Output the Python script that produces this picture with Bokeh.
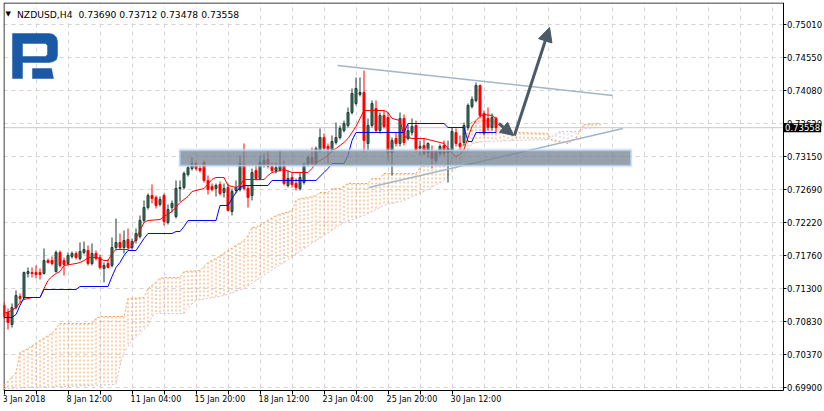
import numpy as np
from bokeh.plotting import figure
from bokeh.models import (FixedTicker, Range1d, Label, Span, BoxAnnotation, Arrow,
                          NormalHead, ColumnDataSource, NumeralTickFormatter,
                          CustomJSTickFormatter)
from bokeh.embed import file_html
from bokeh.resources import INLINE

# ---------------- data ----------------
symbol = "NZDUSD,H4"
header_ohlc = ["0.73690", "0.73712", "0.73478", "0.73558"]

opens = [0.71055, 0.70956, 0.70787, 0.71026, 0.71181, 0.71167, 0.71505, 0.71519, 0.71519, 0.71519,
         0.71505, 0.71688, 0.71688, 0.71533, 0.71801, 0.71688, 0.71646, 0.71745, 0.71787, 0.71716,
         0.71801, 0.71829, 0.71646, 0.71787, 0.71730, 0.71576, 0.71646, 0.71618, 0.71871, 0.71942,
         0.71871, 0.71984, 0.71871, 0.71970, 0.72026, 0.72251, 0.72434, 0.72603, 0.72575, 0.72477,
         0.72603, 0.72223, 0.72434, 0.72308, 0.72702, 0.72716, 0.72899, 0.72984, 0.73054, 0.72984,
         0.73068, 0.72815, 0.72730, 0.72702, 0.72758, 0.72646, 0.72716, 0.72378, 0.72674, 0.72688,
         0.73040, 0.72702, 0.72603, 0.72955, 0.72843, 0.73026, 0.73110, 0.73012, 0.72955, 0.72969,
         0.73026, 0.72744, 0.72857, 0.72772, 0.72702, 0.72786, 0.73040, 0.73138, 0.73054, 0.73237,
         0.73420, 0.73293, 0.73251, 0.73350, 0.73420, 0.73519, 0.73589, 0.73772, 0.73899, 0.74026,
         0.74054, 0.73336, 0.73589, 0.73828, 0.73519, 0.73730, 0.73702, 0.73209, 0.73406, 0.73336,
         0.73688, 0.73406, 0.73491, 0.73589, 0.73265, 0.73308, 0.73209, 0.73237, 0.73096, 0.73195,
         0.73308, 0.73209, 0.73237, 0.73491, 0.73336, 0.73350, 0.73561, 0.73856, 0.73941, 0.74152,
         0.73758, 0.73688, 0.73561, 0.73690]
highs = [0.71097, 0.71012, 0.71083, 0.71266, 0.71224, 0.71533, 0.71590, 0.71590, 0.71618, 0.71576,
         0.71857, 0.71716, 0.71745, 0.71829, 0.71829, 0.71730, 0.71801, 0.71815, 0.71815, 0.71942,
         0.71956, 0.71899, 0.71928, 0.71829, 0.71773, 0.71660, 0.71702, 0.72012, 0.72280, 0.72068,
         0.72111, 0.72139, 0.71998, 0.72139, 0.72322, 0.72533, 0.72632, 0.72758, 0.72603, 0.72589,
         0.72632, 0.72477, 0.72533, 0.72815, 0.72815, 0.72941, 0.73026, 0.73138, 0.73082, 0.73026,
         0.73096, 0.72885, 0.72772, 0.72772, 0.72800, 0.72772, 0.72772, 0.72702, 0.72815, 0.73167,
         0.73336, 0.72744, 0.72984, 0.73026, 0.73167, 0.73195, 0.73237, 0.73068, 0.73068, 0.73237,
         0.73096, 0.72955, 0.72927, 0.72843, 0.72927, 0.73068, 0.73167, 0.73279, 0.73293, 0.73547,
         0.73477, 0.73336, 0.73448, 0.73631, 0.73589, 0.73659, 0.73842, 0.74110, 0.74265, 0.74265,
         0.74363, 0.73688, 0.73941, 0.73941, 0.73772, 0.73800, 0.73772, 0.73420, 0.73491, 0.73772,
         0.73744, 0.73603, 0.73688, 0.73659, 0.73378, 0.73406, 0.73350, 0.73308, 0.73237, 0.73322,
         0.73378, 0.73378, 0.73561, 0.73547, 0.73448, 0.73631, 0.73899, 0.73998, 0.74194, 0.74166,
         0.73800, 0.73842, 0.73758, 0.73712]
lows = [0.70872, 0.70717, 0.70745, 0.70998, 0.71097, 0.71139, 0.71449, 0.71449, 0.71435, 0.71421,
        0.71491, 0.71646, 0.71618, 0.71519, 0.71590, 0.71477, 0.71618, 0.71716, 0.71702, 0.71688,
        0.71773, 0.71618, 0.71618, 0.71688, 0.71561, 0.71378, 0.71576, 0.71590, 0.71829, 0.71843,
        0.71787, 0.71843, 0.71843, 0.71928, 0.71998, 0.72223, 0.72406, 0.72491, 0.72420, 0.72449,
        0.72181, 0.72195, 0.72364, 0.72280, 0.72519, 0.72688, 0.72871, 0.72955, 0.72955, 0.72927,
        0.72786, 0.72618, 0.72660, 0.72589, 0.72603, 0.72575, 0.72378, 0.72322, 0.72632, 0.72660,
        0.72674, 0.72434, 0.72533, 0.72815, 0.72815, 0.72998, 0.72984, 0.72927, 0.72913, 0.72941,
        0.72744, 0.72716, 0.72716, 0.72674, 0.72674, 0.72758, 0.73012, 0.73026, 0.73026, 0.73209,
        0.73237, 0.73054, 0.73209, 0.73322, 0.73392, 0.73491, 0.73561, 0.73744, 0.73871, 0.73998,
        0.73209, 0.73237, 0.73561, 0.73491, 0.73477, 0.73547, 0.73096, 0.72885, 0.73293, 0.73293,
        0.73308, 0.73378, 0.73448, 0.73209, 0.73167, 0.73167, 0.73138, 0.72984, 0.73054, 0.73153,
        0.73153, 0.72786, 0.73209, 0.73293, 0.73237, 0.73308, 0.73533, 0.73828, 0.73913, 0.73688,
        0.73448, 0.73519, 0.73519, 0.73478]
closes = [0.70900, 0.70815, 0.71026, 0.71195, 0.71153, 0.71519, 0.71533, 0.71505, 0.71491, 0.71491,
          0.71688, 0.71660, 0.71646, 0.71801, 0.71618, 0.71632, 0.71759, 0.71787, 0.71730, 0.71815,
          0.71843, 0.71646, 0.71787, 0.71716, 0.71590, 0.71618, 0.71590, 0.71871, 0.71942, 0.71871,
          0.71970, 0.71871, 0.71956, 0.72068, 0.72251, 0.72434, 0.72603, 0.72561, 0.72463, 0.72547,
          0.72237, 0.72406, 0.72491, 0.72702, 0.72716, 0.72913, 0.72998, 0.73054, 0.72984, 0.72955,
          0.72815, 0.72688, 0.72688, 0.72744, 0.72632, 0.72702, 0.72392, 0.72660, 0.72716, 0.73054,
          0.72702, 0.72575, 0.72927, 0.72843, 0.73068, 0.73096, 0.73012, 0.72955, 0.72998, 0.73040,
          0.72772, 0.72843, 0.72758, 0.72716, 0.72857, 0.73040, 0.73138, 0.73054, 0.73265, 0.73420,
          0.73265, 0.73251, 0.73364, 0.73420, 0.73547, 0.73617, 0.73772, 0.74040, 0.74110, 0.74054,
          0.73378, 0.73589, 0.73899, 0.73519, 0.73730, 0.73575, 0.73209, 0.73378, 0.73336, 0.73688,
          0.73350, 0.73519, 0.73575, 0.73237, 0.73293, 0.73195, 0.73336, 0.73124, 0.73223, 0.73293,
          0.73195, 0.73265, 0.73505, 0.73336, 0.73293, 0.73589, 0.73871, 0.73955, 0.74152, 0.73730,
          0.73477, 0.73561, 0.73702, 0.73558]

# Ichimoku lines (vertices: bar index, price)
tenkan_bar = [0, 2, 3, 4, 5, 7, 9, 10, 11, 12, 13, 14, 15, 18, 19, 20, 21, 23, 24, 25, 26, 27, 28, 31,
              32, 33, 34, 35, 36, 39, 40, 42, 44, 46, 47, 50, 52, 53, 55, 56, 58, 59, 60, 65, 66, 67,
              70, 72, 76, 77, 78, 79, 80, 81, 82, 83, 84, 85, 86, 87, 88, 89, 90, 95, 96, 97, 99, 100,
              102, 105, 107, 109, 110, 111, 112, 113, 114, 115, 116, 117, 118, 119, 120, 122, 123]
tenkan_val = [0.70942, 0.70984, 0.71026, 0.71097, 0.71139, 0.71167, 0.71167, 0.71294, 0.71407, 0.71463,
              0.71505, 0.71533, 0.71618, 0.71646, 0.71660, 0.71688, 0.71730, 0.71730, 0.71716, 0.71688,
              0.71688, 0.71787, 0.71843, 0.71843, 0.71899, 0.71998, 0.72111, 0.72223, 0.72251, 0.72265,
              0.72308, 0.72378, 0.72505, 0.72589, 0.72660, 0.72702, 0.72829, 0.72857, 0.72857, 0.72744,
              0.72716, 0.72744, 0.72829, 0.72829, 0.72885, 0.72927, 0.72969, 0.72927, 0.72927, 0.72984,
              0.73068, 0.73096, 0.73124, 0.73167, 0.73237, 0.73265, 0.73308, 0.73350, 0.73406, 0.73491,
              0.73575, 0.73688, 0.73800, 0.73800, 0.73772, 0.73688, 0.73659, 0.73434, 0.73406, 0.73406,
              0.73378, 0.73350, 0.73336, 0.73265, 0.73195, 0.73153, 0.73181, 0.73251, 0.73420, 0.73575,
              0.73659, 0.73716, 0.73744, 0.73730, 0.73688]
kijun_bar = [0, 2, 3, 4, 5, 9, 10, 18, 19, 26, 27, 28, 29, 30, 31, 33, 34, 35, 36, 42, 43, 44, 45, 46,
             53, 54, 56, 57, 58, 59, 60, 66, 67, 78, 79, 80, 81, 82, 85, 86, 87, 88, 100, 101, 110, 111,
             115, 116, 117, 118, 123]
kijun_val = [0.70886, 0.70886, 0.70928, 0.71055, 0.71167, 0.71167, 0.71280, 0.71280, 0.71322, 0.71322,
             0.71463, 0.71590, 0.71660, 0.71759, 0.71829, 0.71829, 0.71913, 0.71998, 0.72068, 0.72068,
             0.72096, 0.72096, 0.72167, 0.72251, 0.72251, 0.72463, 0.72463, 0.72561, 0.72646, 0.72716,
             0.72744, 0.72744, 0.72815, 0.72815, 0.72871, 0.72927, 0.72984, 0.73054, 0.73054, 0.73167,
             0.73378, 0.73491, 0.73491, 0.73617, 0.73617, 0.73561, 0.73561, 0.73364, 0.73364, 0.73491,
             0.73491]
span_a_bar = [0, 3, 4, 6, 9, 12, 14, 22, 23, 24, 30, 31, 35, 36, 37, 39, 40, 44, 45, 49, 51, 53, 56, 58,
              60, 61, 62, 63, 68, 72, 73, 74, 76, 78, 79, 81, 82, 84, 86, 91, 92, 94, 95, 103, 104, 105,
              111, 112, 114, 115, 116, 117, 120, 123, 125, 128, 136, 137, 141, 143, 144, 145, 149]
span_a_val = [0.69928, 0.70111, 0.70393, 0.70449, 0.70562, 0.70661, 0.70801, 0.70801, 0.70872, 0.70900,
              0.70900, 0.71153, 0.71167, 0.71294, 0.71336, 0.71435, 0.71449, 0.71449, 0.71533, 0.71547,
              0.71660, 0.71716, 0.71829, 0.71899, 0.71970, 0.72040, 0.72153, 0.72153, 0.72322, 0.72392,
              0.72533, 0.72561, 0.72575, 0.72603, 0.72646, 0.72646, 0.72702, 0.72702, 0.72772, 0.72772,
              0.72843, 0.72843, 0.72913, 0.72913, 0.72998, 0.73026, 0.73026, 0.73138, 0.73138, 0.73378,
              0.73547, 0.73645, 0.73659, 0.73645, 0.73561, 0.73491, 0.73477, 0.73378, 0.73336, 0.73406,
              0.73519, 0.73603, 0.73617]
span_b_bar = [0, 28, 29, 30, 32, 33, 36, 37, 38, 45, 46, 48, 55, 60, 66, 70, 75, 80, 85, 90, 95, 100,
              104, 110, 113, 116, 117, 120, 136, 137, 139, 144, 145, 149]
span_b_val = [0.69886, 0.69942, 0.70210, 0.70393, 0.70562, 0.70604, 0.70773, 0.70900, 0.70942, 0.70942,
              0.71026, 0.71125, 0.71195, 0.71294, 0.71519, 0.71660, 0.71857, 0.72040, 0.72223, 0.72322,
              0.72463, 0.72533, 0.72632, 0.72815, 0.72984, 0.73237, 0.73336, 0.73364, 0.73392, 0.73434,
              0.73505, 0.73505, 0.73547, 0.73561]

# axes
time_tick_bars = [0, 16, 32, 48, 64, 80, 96, 112]
time_tick_labels = ["3 Jan 2018", "8 Jan 12:00", "11 Jan 04:00", "15 Jan 20:00",
                    "18 Jan 12:00", "23 Jan 04:00", "25 Jan 20:00", "30 Jan 12:00"]
price_ticks = [0.69900, 0.70370, 0.70830, 0.71300, 0.71760, 0.72220,
               0.72690, 0.73150, 0.73620, 0.74080, 0.74550, 0.75010]
current_price = 0.73558

# drawn analysis objects
resistance_bars = [83.4, 152.2]
resistance_prices = [0.74434, 0.74011]
support_bars = [91.2, 154.7]
support_prices = [0.72716, 0.73547]
zone_bars = [44.0, 156.7]
zone_prices = [0.73026, 0.73237]
arrow1_bars = [123.7, 127.4]
arrow1_prices = [0.73617, 0.73448]
arrow2_bars = [127.6, 136.4]
arrow2_prices = [0.73448, 0.74969]

# ---------------- layout ----------------
# The plotting frame covers the whole canvas; both scales are real axes pinned
# (fixed_location) at the chart's right and bottom edges, MetaTrader style.
W, H = 824, 411
FL, FT, FR, FB = 3, 2, 824, 411
AXIS_X_PX = 782.5      # price scale line
AXIS_Y_PX = 389.5      # time scale line
PX_PER_BAR = 4.0
PRICE_PER_PX = 0.05449 / 387.0
X0 = -0.125
X1 = X0 + (FR - FL) / PX_PER_BAR
Y1 = 0.753208
Y0 = Y1 - (FB - FT) * PRICE_PER_PX


def px_x(px):
    return X0 + (px - FL) * (X1 - X0) / (FR - FL)


def px_y(py):
    return Y1 - (py - FT) * (Y1 - Y0) / (FB - FT)


X_AXIS = px_x(AXIS_X_PX)
Y_AXIS = px_y(AXIS_Y_PX)

p = figure(width=W, height=H, x_range=Range1d(X0, X1), y_range=Range1d(Y0, Y1),
           y_axis_location="right", toolbar_location=None, output_backend="svg",
           min_border_left=FL, min_border_top=FT, min_border_right=0,
           min_border_bottom=0)
p.background_fill_color = "white"
p.border_fill_color = "white"
p.outline_line_color = None

# grid
p.xgrid.ticker = FixedTicker(ticks=list(range(8, 193, 8)))
p.ygrid.ticker = FixedTicker(ticks=price_ticks)
for g in (p.xgrid, p.ygrid):
    g.grid_line_color = "#D3D3D3"
    g.grid_line_dash = "4 4"
    g.grid_line_width = 1

# current price line (behind candles)
p.add_layout(Span(location=current_price, dimension="width", line_color="#C8C8C8",
                  line_width=1, level="underlay"))
# blank scale strips right of and below the chart
p.add_layout(BoxAnnotation(left=X_AXIS, fill_color="white", fill_alpha=1.0,
                           line_alpha=0, level="underlay"))
p.add_layout(BoxAnnotation(top=Y_AXIS, fill_color="white", fill_alpha=1.0,
                           line_alpha=0, level="underlay"))

# ---- time axis: labels start at their tick ----
FONT_PX = 8.0
DEJAVU_EM = {" ": 0.318, "J": 0.295, "a": 0.613, "n": 0.634, ":": 0.337}


def text_px(s):
    return sum(DEJAVU_EM.get(ch, 0.636) for ch in s) * FONT_PX


label_centres = [b - 0.35 + text_px(t) / 2.0 / PX_PER_BAR
                 for b, t in zip(time_tick_bars, time_tick_labels)]
xa = p.xaxis[0]
xa.fixed_location = Y_AXIS
xa.bounds = (X0, X_AXIS)
xa.ticker = FixedTicker(ticks=label_centres, minor_ticks=list(range(0, 113, 8)))
xa.formatter = CustomJSTickFormatter(args=dict(labels=time_tick_labels),
                                     code="return labels[index];")
xa.major_label_text_font = "DejaVu Sans"
xa.major_label_text_font_size = "8px"
xa.major_label_text_color = "black"
xa.major_label_standoff = 1
xa.major_tick_out = 4
xa.major_tick_in = 0
xa.major_tick_line_color = None
xa.minor_tick_out = 4
xa.minor_tick_in = 0
xa.minor_tick_line_color = "black"
xa.axis_line_color = "black"

ya = p.yaxis[0]
ya.fixed_location = X_AXIS
ya.bounds = (Y_AXIS, Y1)
ya.ticker = FixedTicker(ticks=price_ticks, minor_ticks=[])
ya.formatter = NumeralTickFormatter(format="0.00000")
ya.major_label_text_font = "DejaVu Sans"
ya.major_label_text_font_size = "8.5px"
ya.major_label_text_color = "black"
ya.major_label_standoff = 1
ya.major_tick_out = 3
ya.major_tick_in = 0
ya.minor_tick_out = 0
ya.minor_tick_in = 0
ya.axis_line_color = "black"
ya.major_tick_line_color = "black"

# chart border (left and top)
p.line([px_x(3.5), px_x(3.5)], [Y_AXIS, px_y(2.5)], line_color="black", line_width=1)
p.line([px_x(3.5), X_AXIS], [px_y(2.5), px_y(2.5)], line_color="black", line_width=1)

# ---------------- Ichimoku cloud: dotted vertical hatch at every bar ----------------
cloud_bars = np.arange(0, max(span_a_bar[-1], span_b_bar[-1]) + 1)
ca = np.interp(cloud_bars, span_a_bar, span_a_val)
cb = np.interp(cloud_bars, span_b_bar, span_b_val)
p.segment(x0=cloud_bars, y0=ca, x1=cloud_bars, y1=np.maximum(cb, Y_AXIS),
          line_color=np.where(ca >= cb, "#F4A460", "#D8BFD8").tolist(),
          line_width=1, line_dash="2 2")
p.line(span_a_bar, span_a_val, line_color="#F4A460", line_width=1, line_dash="2 2")
p.line(span_b_bar, span_b_val, line_color="#D8BFD8", line_width=1, line_dash="2 2")

# ---------------- candles ----------------
idx = np.arange(len(opens))
o, h, l, c = map(np.array, (opens, highs, lows, closes))
bull = c >= o
src = ColumnDataSource(dict(
    x=idx, o=o, h=h, l=l, c=c,
    top=np.maximum(o, c), bottom=np.minimum(o, c),
    fill=np.where(bull, "#3C7D60", "#FF0000"),
    edge=np.where(bull, "#1F3B35", "#FF0000"),
))
p.segment(x0="x", y0="l", x1="x", y1="h", line_color="edge", line_width=1, source=src)
p.vbar(x="x", width=0.5, top="top", bottom="bottom", fill_color="fill", line_color="edge",
       line_width=1, source=src)

# Tenkan / Kijun
p.line(tenkan_bar, tenkan_val, line_color="#FF0000", line_width=1)
p.line(kijun_bar, kijun_val, line_color="#0000FF", line_width=1)

# ---------------- analysis objects ----------------
p.line(resistance_bars, resistance_prices, line_color="#A2B6C6", line_width=1.5)
p.line(support_bars, support_prices, line_color="#A2B6C6", line_width=1.5)
p.add_layout(BoxAnnotation(left=zone_bars[0] - 0.4, right=zone_bars[1] + 0.4,
                           bottom=zone_prices[0] - 0.0003, top=zone_prices[1] + 0.0003,
                           fill_color="#B9D3F0", fill_alpha=0.35, line_alpha=0))
p.add_layout(BoxAnnotation(left=zone_bars[0], right=zone_bars[1], bottom=zone_prices[0],
                           top=zone_prices[1], fill_color="#6C7884", fill_alpha=0.66,
                           line_color="#B3CCEA", line_width=1.5, line_alpha=0.9))
ac = "#4B5A67"
p.add_layout(Arrow(end=NormalHead(size=13, fill_color=ac, line_color=ac),
                   x_start=arrow1_bars[0], y_start=arrow1_prices[0],
                   x_end=arrow1_bars[1], y_end=arrow1_prices[1],
                   line_color=ac, line_width=3))
p.add_layout(Arrow(end=NormalHead(size=14, fill_color=ac, line_color=ac),
                   x_start=arrow2_bars[0], y_start=arrow2_prices[0],
                   x_end=arrow2_bars[1], y_end=arrow2_prices[1],
                   line_color=ac, line_width=3))

# ---------------- logo (decoration) ----------------
outer = [(12, 78), (12, 33), (49, 33), (53, 34), (56, 37), (57, 41), (57, 55), (56, 59),
         (53, 61), (49, 62), (22, 62), (22, 78)]
hole = [(22, 43), (45, 43), (47, 45), (47, 54), (45, 56), (22, 56)]
leg = [(32, 68), (51, 68), (53, 78), (32, 78)]
tx = lambda pts: [px_x(q[0]) for q in pts]
ty = lambda pts: [px_y(q[1]) for q in pts]
p.multi_polygons(xs=[[[tx(outer), tx(hole)]], [[tx(leg)]]],
                 ys=[[[ty(outer), ty(hole)]], [[ty(leg)]]],
                 fill_color="#1A59A6", line_color="#1A59A6", line_width=0.5)

# ---------------- texts ----------------
title = Label(x=px_x(16.5), y=px_y(13.5), text=symbol + "\u00a0 " + " ".join(header_ohlc),
              text_font="DejaVu Sans", text_font_size="9.2px", text_color="black",
              text_baseline="alphabetic", text_align="left",
              background_fill_color="white")
p.add_layout(title)
p.add_layout(Label(x=px_x(5), y=px_y(13.5), text="\u25bc", text_font="DejaVu Sans",
                   text_font_size="7px", text_color="black", text_baseline="alphabetic"))
# current price tag on the price scale
p.add_layout(Label(x=px_x(AXIS_X_PX + 1), y=current_price, text="0.73558",
                   text_font="DejaVu Sans", text_font_size="8.5px", text_color="white",
                   text_baseline="middle", text_align="left", padding=1,
                   background_fill_color="black"))

open("out.html", "w").write(file_html(p, INLINE))
